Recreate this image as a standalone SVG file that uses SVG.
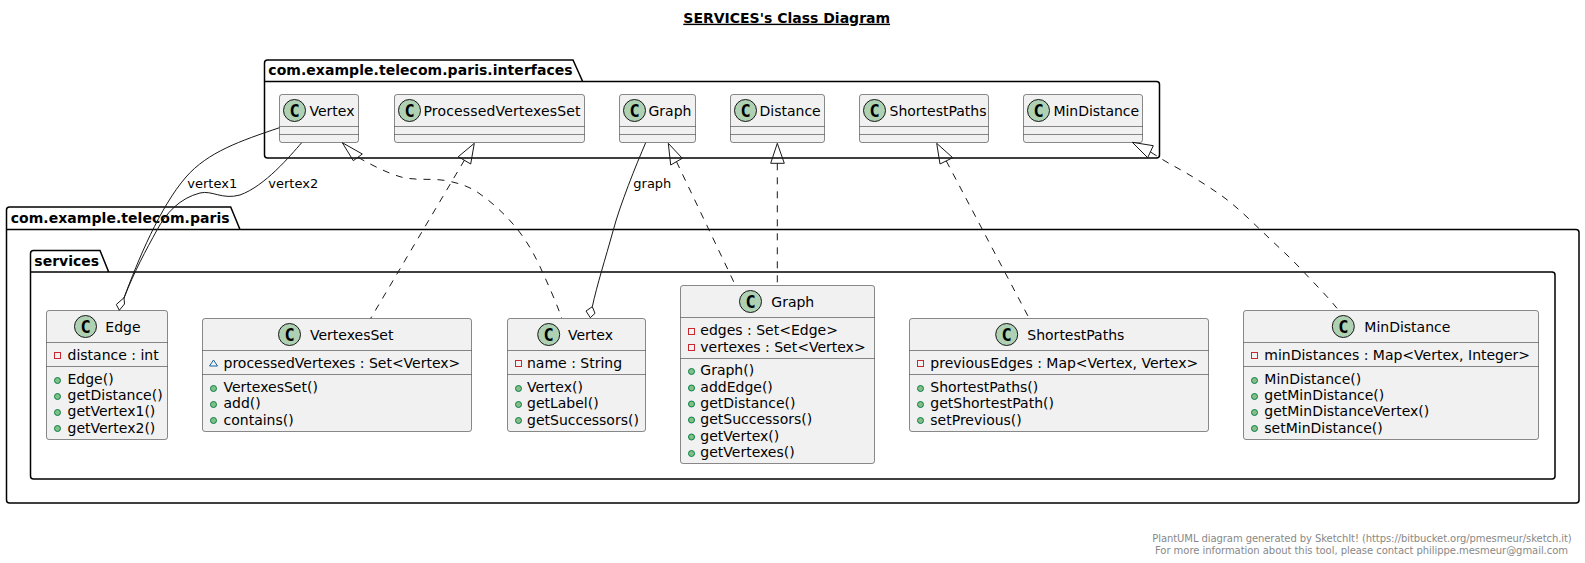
<svg xmlns="http://www.w3.org/2000/svg" width="1585" height="563" viewBox="0 0 1585 563">
<style>
text{font-family:"DejaVu Sans",sans-serif;font-size:14px;fill:#000}
.pkg{fill:none;stroke:#000;stroke-width:1.5}
.pt{font-weight:bold}
.box{fill:#F1F1F1;stroke:#181818;stroke-width:.5}
.sep{stroke:#181818;stroke-width:.5;fill:none}
.cc{fill:#ADD1B2;stroke:#181818;stroke-width:1}
.cg{font-family:"DejaVu Sans Mono",monospace;font-weight:bold;font-size:17px;text-anchor:middle}
.priv{fill:none;stroke:#C82930;stroke-width:1}
.pub{fill:#84BE84;stroke:#038048;stroke-width:1}
.pkgv{fill:none;stroke:#1963A0;stroke-width:1}
.ln{fill:none;stroke:#181818;stroke-width:1}
.dash{stroke-dasharray:7,7}
.head{fill:none;stroke:#181818;stroke-width:1}
.lab{font-size:13px}
.foot{font-size:10px;fill:#888888}
</style>
<text id="title" x="683.3" y="22.7" class="pt" text-decoration="underline">SERVICES's Class Diagram</text>
<g id="pkg-interfaces">
<path class="pkg" d="M264.5,63 Q264.5,60 267.5,60 L573,60 L582.7,81.5 L1156.5,81.5 Q1159.5,81.5 1159.5,84.5 L1159.5,155 Q1159.5,158 1156.5,158 L267.5,158 Q264.5,158 264.5,155 Z M264.5,81.5 L582.7,81.5"/>
<text class="pt" x="268.3" y="75" textLength="304.4">com.example.telecom.paris.interfaces</text>
</g>
<g id="pkg-paris">
<path class="pkg" d="M6.5,210 Q6.5,207 9.5,207 L230.7,207 L240,229.5 L1576,229.5 Q1579,229.5 1579,232.5 L1579,500 Q1579,503 1576,503 L9.5,503 Q6.5,503 6.5,500 Z M6.5,229.5 L240,229.5"/>
<text class="pt" x="10.7" y="222.7" textLength="219">com.example.telecom.paris</text>
</g>
<g id="pkg-services">
<path class="pkg" d="M30.5,253.5 Q30.5,250.5 33.5,250.5 L100,250.5 L108.7,272 L1552,272 Q1555,272 1555,275 L1555,476 Q1555,479 1552,479 L33.5,479 Q30.5,479 30.5,476 Z M30.5,272 L108.7,272"/>
<text class="pt" x="34.3" y="266">services</text>
</g>
<g id="i-Vertex">
<rect class="box" x="279.5" y="94.5" width="79" height="48" rx="2.5"/><path class="sep" d="M279.5,126.5H358.5M279.5,134.5H358.5"/>
<circle class="cc" cx="294.5" cy="110.5" r="11"/><text class="cg" x="294.5" y="116.5">C</text><text x="309.5" y="115.5">Vertex</text>
</g>
<g id="i-ProcessedVertexesSet">
<rect class="box" x="394.5" y="94.5" width="190" height="48" rx="2.5"/><path class="sep" d="M394.5,126.5H584.5M394.5,134.5H584.5"/>
<circle class="cc" cx="409.5" cy="110.5" r="11"/><text class="cg" x="409.5" y="116.5">C</text><text x="423.5" y="115.5" textLength="157">ProcessedVertexesSet</text>
</g>
<g id="i-Graph">
<rect class="box" x="619.5" y="94.5" width="76" height="48" rx="2.5"/><path class="sep" d="M619.5,126.5H695.5M619.5,134.5H695.5"/>
<circle class="cc" cx="634.5" cy="110.5" r="11"/><text class="cg" x="634.5" y="116.5">C</text><text x="648.5" y="115.5">Graph</text>
</g>
<g id="i-Distance">
<rect class="box" x="730.5" y="94.5" width="94" height="48" rx="2.5"/><path class="sep" d="M730.5,126.5H824.5M730.5,134.5H824.5"/>
<circle class="cc" cx="745.5" cy="110.5" r="11"/><text class="cg" x="745.5" y="116.5">C</text><text x="759.5" y="115.5">Distance</text>
</g>
<g id="i-ShortestPaths">
<rect class="box" x="859.5" y="94.5" width="129" height="48" rx="2.5"/><path class="sep" d="M859.5,126.5H988.5M859.5,134.5H988.5"/>
<circle class="cc" cx="874.5" cy="110.5" r="11"/><text class="cg" x="874.5" y="116.5">C</text><text x="889.5" y="115.5">ShortestPaths</text>
</g>
<g id="i-MinDistance">
<rect class="box" x="1023.5" y="94.5" width="119" height="48" rx="2.5"/><path class="sep" d="M1023.5,126.5H1142.5M1023.5,134.5H1142.5"/>
<circle class="cc" cx="1038.5" cy="110.5" r="11"/><text class="cg" x="1038.5" y="116.5">C</text><text x="1053.5" y="115.5" textLength="85.5">MinDistance</text>
</g>
<g id="s-Edge">
<rect class="box" x="46.5" y="310.5" width="121" height="129" rx="2.5"/><path class="sep" d="M46.5,342.5H167.5M46.5,366.5H167.5"/>
<circle class="cc" cx="85.5" cy="326.5" r="11"/><text class="cg" x="85.5" y="332.5">C</text><text x="105.3" y="331.5">Edge</text>
<rect class="priv" x="54.5" y="352.5" width="6" height="6"/><text x="67.5" y="359.5">distance : int</text>
<circle class="pub" cx="57.5" cy="380.5" r="3"/><text x="67.5" y="383.5">Edge()</text>
<circle class="pub" cx="57.5" cy="396.5" r="3"/><text x="67.5" y="400">getDistance()</text>
<circle class="pub" cx="57.5" cy="412.5" r="3"/><text x="67.5" y="416">getVertex1()</text>
<circle class="pub" cx="57.5" cy="428.5" r="3"/><text x="67.5" y="432.5">getVertex2()</text>
</g>
<g id="s-VertexesSet">
<rect class="box" x="202.5" y="318.5" width="269" height="113" rx="2.5"/><path class="sep" d="M202.5,350.5H471.5M202.5,374.5H471.5"/>
<circle class="cc" cx="289.5" cy="334.5" r="11"/><text class="cg" x="289.5" y="340.5">C</text><text x="310" y="339.5">VertexesSet</text>
<path class="pkgv" d="M213.5,360 L217.5,366 L209.5,366 Z"/><text x="223.5" y="367.5">processedVertexes : Set&lt;Vertex&gt;</text>
<circle class="pub" cx="213.5" cy="388.5" r="3"/><text x="223.5" y="391.5">VertexesSet()</text>
<circle class="pub" cx="213.5" cy="404.5" r="3"/><text x="223.5" y="408">add()</text>
<circle class="pub" cx="213.5" cy="420.5" r="3"/><text x="223.5" y="424.5">contains()</text>
</g>
<g id="s-Vertex">
<rect class="box" x="507.5" y="318.5" width="138" height="113" rx="2.5"/><path class="sep" d="M507.5,350.5H645.5M507.5,374.5H645.5"/>
<circle class="cc" cx="548.7" cy="334.5" r="11"/><text class="cg" x="548.7" y="340.5">C</text><text x="568" y="339.5">Vertex</text>
<rect class="priv" x="515.5" y="360.5" width="6" height="6"/><text x="527" y="367.5">name : String</text>
<circle class="pub" cx="518.5" cy="388.5" r="3"/><text x="527" y="391.5">Vertex()</text>
<circle class="pub" cx="518.5" cy="404.5" r="3"/><text x="527" y="408">getLabel()</text>
<circle class="pub" cx="518.5" cy="420.5" r="3"/><text x="527" y="424.5">getSuccessors()</text>
</g>
<g id="s-Graph">
<rect class="box" x="680.5" y="285.5" width="194" height="178" rx="2.5"/><path class="sep" d="M680.5,317.5H874.5M680.5,358.5H874.5"/>
<circle class="cc" cx="750.5" cy="301.5" r="11"/><text class="cg" x="750.5" y="307.5">C</text><text x="771.3" y="306.5">Graph</text>
<rect class="priv" x="688.5" y="328.5" width="6" height="6"/><text x="700.3" y="335">edges : Set&lt;Edge&gt;</text>
<rect class="priv" x="688.5" y="344.5" width="6" height="6"/><text x="700.3" y="351.5">vertexes : Set&lt;Vertex&gt;</text>
<circle class="pub" cx="691.5" cy="371.5" r="3"/><text x="700.3" y="375">Graph()</text>
<circle class="pub" cx="691.5" cy="388" r="3"/><text x="700.3" y="391.5">addEdge()</text>
<circle class="pub" cx="691.5" cy="404" r="3"/><text x="700.3" y="408">getDistance()</text>
<circle class="pub" cx="691.5" cy="420" r="3"/><text x="700.3" y="424">getSuccessors()</text>
<circle class="pub" cx="691.5" cy="437" r="3"/><text x="700.3" y="440.5">getVertex()</text>
<circle class="pub" cx="691.5" cy="453.5" r="3"/><text x="700.3" y="457">getVertexes()</text>
</g>
<g id="s-ShortestPaths">
<rect class="box" x="909.5" y="318.5" width="299" height="113" rx="2.5"/><path class="sep" d="M909.5,350.5H1208.5M909.5,374.5H1208.5"/>
<circle class="cc" cx="1006.7" cy="334.5" r="11"/><text class="cg" x="1006.7" y="340.5">C</text><text x="1027.3" y="339.5">ShortestPaths</text>
<rect class="priv" x="917.5" y="360.5" width="6" height="6"/><text x="930.3" y="367.5">previousEdges : Map&lt;Vertex, Vertex&gt;</text>
<circle class="pub" cx="920.5" cy="388.5" r="3"/><text x="930.3" y="391.5">ShortestPaths()</text>
<circle class="pub" cx="920.5" cy="404.5" r="3"/><text x="930.3" y="408">getShortestPath()</text>
<circle class="pub" cx="920.5" cy="420.5" r="3"/><text x="930.3" y="424.5">setPrevious()</text>
</g>
<g id="s-MinDistance">
<rect class="box" x="1243.5" y="310.5" width="295" height="129" rx="2.5"/><path class="sep" d="M1243.5,342.5H1538.5M1243.5,366.5H1538.5"/>
<circle class="cc" cx="1343.3" cy="326.5" r="11"/><text class="cg" x="1343.3" y="332.5">C</text><text x="1364.3" y="331.5">MinDistance</text>
<rect class="priv" x="1251.5" y="352.5" width="6" height="6"/><text x="1264.3" y="359.5">minDistances : Map&lt;Vertex, Integer&gt;</text>
<circle class="pub" cx="1254.5" cy="380.5" r="3"/><text x="1264.3" y="383.5">MinDistance()</text>
<circle class="pub" cx="1254.5" cy="396.5" r="3"/><text x="1264.3" y="400">getMinDistance()</text>
<circle class="pub" cx="1254.5" cy="412.5" r="3"/><text x="1264.3" y="416">getMinDistanceVertex()</text>
<circle class="pub" cx="1254.5" cy="428.5" r="3"/><text x="1264.3" y="432.5">setMinDistance()</text>
</g>
<g id="connectors">
<path class="ln" d="M279.5,127.7 C240,141 208,152 186,177 C160,207 138,260 124,298"/>
<path class="ln" d="M301.7,142.7 C290,156 265,186 240,195 C222,200 212,190 200,193 C180,198 166,213 157,230 C146,250 134,272 124,298"/>
<path class="head" d="M124,297.7 L124.5,304 L119.3,310.3 L116.3,304.5 Z"/>
<path class="ln" d="M645.7,142.7 C636,165 620,205 613.3,230 C605,260 597,285 592.3,306.7"/>
<path class="head" d="M592.3,306.7 L595,313.3 L590.3,317.7 L586,311 Z"/>
<path class="ln dash" d="M358,157.3 C375,167 388,173 400,176.7 C415,181 432,178 446.7,180.7 C458,183 468,186 476.7,191.7 C492,202 506,215 518,230 C528,243 534,254 540,266.7 C548,284 556,302 561.7,318"/>
<path class="head" d="M342.3,142.7 L362.3,154 L353.3,160.7 Z"/>
<path class="ln dash" d="M464.5,160 L370.7,318.3"/>
<path class="head" d="M474.3,143.3 L470.7,164 L458.3,156.7 Z"/>
<path class="ln dash" d="M676.5,161.7 L734.3,283"/>
<path class="head" d="M668.3,143.3 L682.3,158.3 L670.7,165 Z"/>
<path class="ln dash" d="M777.3,163.3 L777.3,285"/>
<path class="head" d="M777.3,143.3 L784.3,163.3 L770.7,163.3 Z"/>
<path class="ln dash" d="M946.3,161 L1029,318"/>
<path class="head" d="M936.7,143.3 L952.7,157.7 L940,164 Z"/>
<path class="ln dash" d="M1150.5,152 C1160,158 1168,163 1175,166.7 C1192,176 1208,186 1223,196.7 C1237,207 1249,219 1260.6,230 C1276,245 1290,257 1303.4,271.7 C1315,284 1327,296 1337,308.3"/>
<path class="head" d="M1132.3,142.3 L1153.3,145.7 L1147.7,157.7 Z"/>
<text class="lab" x="187.3" y="188">vertex1</text>
<text class="lab" x="268.3" y="188">vertex2</text>
<text class="lab" x="633.3" y="188">graph</text>
</g>
<g id="footer">
<text class="foot" x="1152.3" y="541.7" textLength="419.4">PlantUML diagram generated by SketchIt! (https://bitbucket.org/pmesmeur/sketch.it)</text>
<text class="foot" x="1155" y="553.5" textLength="413">For more information about this tool, please contact philippe.mesmeur@gmail.com</text>
</g>
</svg>
